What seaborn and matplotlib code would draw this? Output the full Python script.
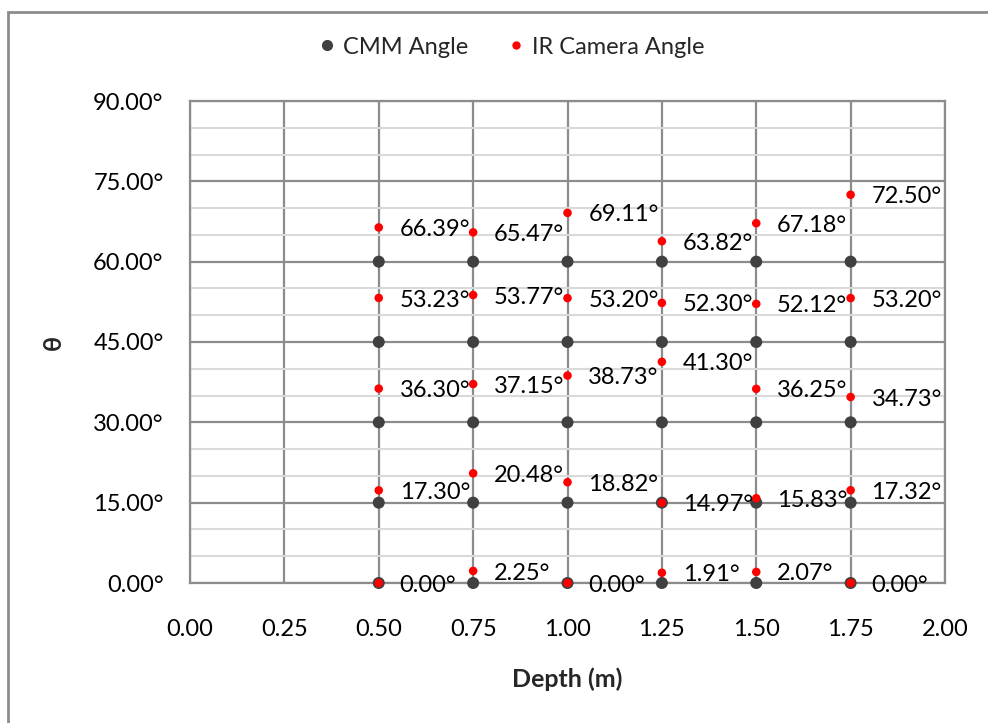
import matplotlib
matplotlib.use("Agg")
import matplotlib.pyplot as plt
from matplotlib.lines import Line2D
from matplotlib.patches import Rectangle
import seaborn as sns
import pandas as pd
import numpy as np

# ---- data ----
depths = [0.50, 0.75, 1.00, 1.25, 1.50, 1.75]
cmm_angles = [0, 15, 30, 45, 60]
ir_0 = [0.00, 2.25, 0.00, 1.91, 2.07, 0.00]
ir_15 = [17.30, 20.48, 18.82, 14.97, 15.83, 17.32]
ir_30 = [36.30, 37.15, 38.73, 41.30, 36.25, 34.73]
ir_45 = [53.23, 53.77, 53.20, 52.30, 52.12, 53.20]
ir_60 = [66.39, 65.47, 69.11, 63.82, 67.18, 72.50]
x_ticks = [0.00, 0.25, 0.50, 0.75, 1.00, 1.25, 1.50, 1.75, 2.00]
y_ticks = [0, 15, 30, 45, 60, 75, 90]

cmm_df = pd.DataFrame([(d, a) for a in cmm_angles for d in depths],
                      columns=["Depth", "Angle"])
ir_rows = []
for series in [ir_0, ir_15, ir_30, ir_45, ir_60]:
    for d, v in zip(depths, series):
        ir_rows.append((d, v))
ir_df = pd.DataFrame(ir_rows, columns=["Depth", "Angle"])

sns.set_theme(style="white")
plt.rcParams["font.family"] = ["Lato", "DejaVu Sans"]

fig = plt.figure(figsize=(9.88, 7.23), dpi=100)
ax = fig.add_axes([190/988, 1-583/723, (945-190)/988, (583-101)/723])

major_c = "#8C8C8C"
minor_c = "#D9D9D9"

ax.set_xlim(0, 2.0)
ax.set_ylim(0, 90)
ax.set_xticks(x_ticks)
ax.set_xticklabels([f"{t:.2f}" for t in x_ticks], fontsize=17)
ax.set_yticks(y_ticks)
ax.set_yticklabels([f"{t:.2f}°" for t in y_ticks], fontsize=17)
ax.set_yticks(np.arange(0, 91, 5), minor=True)
ax.grid(which="minor", axis="y", color=minor_c, lw=1.5, zorder=0)
ax.grid(which="major", axis="both", color=major_c, lw=1.6, zorder=0.5)
ax.set_axisbelow(True)
for s in ax.spines.values():
    s.set_color(major_c)
    s.set_linewidth(1.6)
ax.tick_params(axis="y", which="both", length=0, pad=19, colors="black")
ax.tick_params(axis="x", which="both", length=0, pad=26, colors="black")

sns.scatterplot(data=cmm_df, x="Depth", y="Angle", ax=ax, color="#404040",
                s=75, edgecolor="none", zorder=3, clip_on=False, legend=False)
sns.scatterplot(data=ir_df, x="Depth", y="Angle", ax=ax, color="#FF0000",
                s=38, edgecolor="none", zorder=4, clip_on=False, legend=False)

for d, v in zip(ir_df["Depth"], ir_df["Angle"]):
    ax.annotate(f"{v:.2f}°", (d, v), xytext=(15, -1.5), textcoords="offset points",
                ha="left", va="center", fontsize=17, color="black", zorder=5,
                annotation_clip=False)

ax.set_xlabel("Depth (m)", fontsize=18, fontweight="bold", labelpad=20)
ax.set_ylabel("θ", fontsize=18, fontweight="bold", labelpad=20)

handles = [Line2D([], [], marker="o", ls="", color="#404040", markersize=7),
           Line2D([], [], marker="o", ls="", color="#FF0000", markersize=5)]
fig.legend(handles, ["CMM Angle", "IR Camera Angle"], loc="center",
           bbox_to_anchor=(510/988, 1-47/723), ncol=2, frameon=False,
           fontsize=17, handletextpad=0.2, columnspacing=1.5, handlelength=1.0)

fig.patches.append(Rectangle((8/988, -0.05), 1.1, 1.05-12/723,
                             transform=fig.transFigure, fill=False,
                             edgecolor="#8C8C8C", lw=2))

fig.savefig("out.png", dpi=100)
